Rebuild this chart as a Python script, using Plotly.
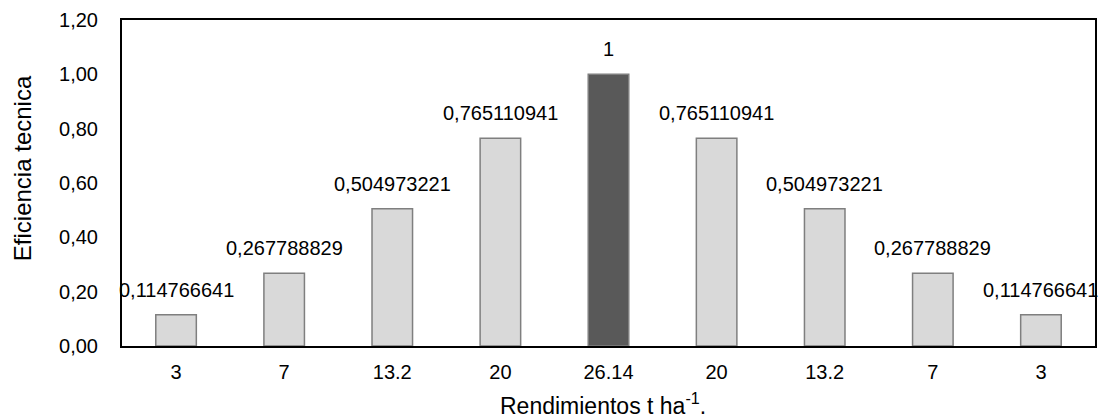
import plotly.graph_objects as go

categories = ["3", "7", "13.2", "20", "26.14", "20", "13.2", "7", "3"]
values = [0.114766641, 0.267788829, 0.504973221, 0.765110941, 1,
          0.765110941, 0.504973221, 0.267788829, 0.114766641]
value_labels = ["0,114766641", "0,267788829", "0,504973221", "0,765110941", "1",
                "0,765110941", "0,504973221", "0,267788829", "0,114766641"]
highlight_index = 4
x_title = "Rendimientos t ha<sup>-1</sup>."
y_title = "Eficiencia tecnica"

positions = list(range(len(categories)))
fills = ["#595959" if i == highlight_index else "#d9d9d9" for i in positions]

fig = go.Figure()
fig.add_trace(go.Bar(
    x=positions, y=values,
    marker=dict(color=fills, line=dict(color="#7f7f7f", width=1.5)),
    hoverinfo="skip",
))

for p, v, t in zip(positions, values, value_labels):
    fig.add_annotation(x=p, y=v, text=t, showarrow=False, yanchor="middle",
                       yshift=25, font=dict(size=20, color="#000000"))

# axis titles as annotations (positioned like the reference)
fig.add_annotation(xref="paper", yref="paper", x=0.494, y=-0.178, text=x_title,
                   showarrow=False, xanchor="center", yanchor="middle",
                   font=dict(size=23, color="#000000"))
fig.add_annotation(xref="paper", yref="paper", x=-0.1026, y=0.546, text=y_title,
                   showarrow=False, xanchor="center", yanchor="middle", textangle=-90,
                   font=dict(size=24, color="#000000"))

fig.update_layout(
    width=1100, height=418,
    margin=dict(l=122, r=3, t=20, b=72),
    plot_bgcolor="white", paper_bgcolor="white",
    font=dict(family="Liberation Sans, Arial, sans-serif", color="#000000", size=20),
    separators=",.",
    bargap=0.625,
    showlegend=False,
)
fig.update_xaxes(
    tickmode="array", tickvals=positions, ticktext=categories,
    range=[-0.5, len(categories) - 0.5],
    showline=True, linecolor="#000000", linewidth=2, mirror=True,
    ticks="", showgrid=False, zeroline=False,
    tickfont=dict(size=20), ticklabelstandoff=7,
)
fig.update_yaxes(
    range=[0, 1.2], tickvals=[0, 0.2, 0.4, 0.6, 0.8, 1.0, 1.2], tickformat=".2f",
    showline=True, linecolor="#000000", linewidth=2, mirror=True,
    ticks="", showgrid=False, zeroline=False,
    tickfont=dict(size=20), ticklabelstandoff=18,
)

fig.write_html("out.html", config={"displayModeBar": False},
               post_script="document.body.style.margin='0';")
